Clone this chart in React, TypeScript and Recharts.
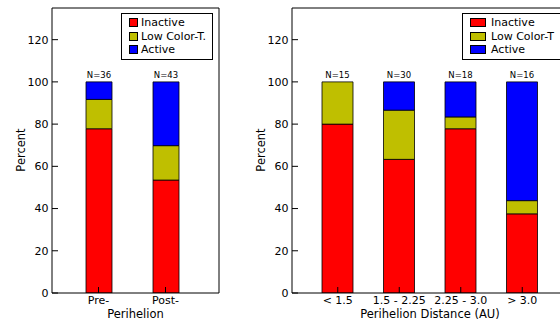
import React from 'react';
import { BarChart, Bar, XAxis, YAxis, Legend, LabelList } from 'recharts';

// pre/post perihelion
const timeCats = ['Pre-', 'Post-'];
const timeN = [36, 43];
const timeInactive = [77.8, 53.5];
const timeLowT = [13.9, 16.3];
const timeActive = [8.3, 30.2];

// by perihelion distance
const distCats = ['< 1.5', '1.5 - 2.25', '2.25 - 3.0', '> 3.0'];
const distN = [15, 30, 18, 16];
const distInactive = [80, 63.3, 77.8, 37.5];
const distLowT = [20, 23.3, 5.6, 6.25];
const distActive = [0, 13.4, 16.6, 56.25];

const yTicks = [0, 20, 40, 60, 80, 100, 120];

const RED = '#ff0000';
const OLIVE = '#bfbf00';
const BLUE = '#0000ff';
const FONT = 'DejaVu Sans, sans-serif';

const build = (cats: string[], n: number[], a: number[], b: number[], c: number[]) =>
  cats.map((name, i) => ({ name, n: n[i], inactive: a[i], lowT: b[i], active: c[i] }));

const timeData = build(timeCats, timeN, timeInactive, timeLowT, timeActive);
const distData = build(distCats, distN, distInactive, distLowT, distActive);

const LegendBox = ({ labels, swatchW, left }: { labels: string[]; swatchW: number; left: number }) => (
  <div
    style={{
      position: 'absolute',
      left,
      top: 13,
      border: '1px solid #000',
      background: '#fff',
      padding: '2px 6px 2px 7px',
      fontFamily: FONT,
      fontSize: 11,
      lineHeight: '13.5px',
      color: '#000',
      whiteSpace: 'nowrap',
    }}
  >
    {labels.map((l, i) => (
      <div key={l} style={{ display: 'flex', alignItems: 'center' }}>
        <span
          style={{
            display: 'inline-block',
            width: swatchW,
            height: 7,
            background: [RED, OLIVE, BLUE][i],
            border: '1px solid #000',
            marginRight: swatchW > 10 ? 5 : 3,
          }}
        />
        {l}
      </div>
    ))}
  </div>
);

// label sits on top of the full stack (100%), placed from the inactive segment's scale
const nLabel = (data: any[]) => (props: any) => {
  const { x, y, width, height, index } = props;
  const row = data[index];
  const perUnit = height / row.inactive;
  const top = y + height - 100 * perUnit;
  return (
    <text x={x + width / 2} y={top - 4} textAnchor="middle" fontSize={8.5} fontFamily={FONT} fill="#000">
      {'N=' + row.n}
    </text>
  );
};

const yLabel = () => (
  <text
    x={21}
    y={150}
    transform="rotate(-90 21 150)"
    textAnchor="middle"
    dominantBaseline="central"
    fontSize={11.5}
    fontFamily={FONT}
    fill="#000"
  >
    Percent
  </text>
);

interface PanelProps {
  data: any[];
  width: number;
  right: number;
  pad: { left: number; right: number };
  barSize: number;
  xLabel: string;
  legendLabels: string[];
  legendLeft: number;
  swatchW: number;
}

const Panel = ({ data, width, right, pad, barSize, xLabel, legendLabels, legendLeft, swatchW }: PanelProps) => {
  const tickStyle = { fontSize: 11, fill: '#000', fontFamily: FONT };
  return (
    <BarChart width={width} height={320} data={data} margin={{ top: 7, right: right - 1, left: 0, bottom: 0 }}>
      <XAxis
        dataKey="name"
        height={27}
        padding={pad}
        tick={tickStyle}
        tickSize={-6}
        tickMargin={9}
        axisLine={{ stroke: '#000' }}
        tickLine={{ stroke: '#000' }}
        interval={0}
        label={{ value: xLabel, position: 'insideBottom', offset: 2, fontSize: 11.5, fill: '#000', fontFamily: FONT }}
      />
      <XAxis
        xAxisId="top"
        orientation="top"
        dataKey="name"
        height={1}
        padding={pad}
        tick={false}
        tickSize={-6}
        axisLine={{ stroke: '#000' }}
        tickLine={{ stroke: '#000' }}
        interval={0}
      />
      <YAxis
        width={52}
        domain={[0, 135]}
        ticks={yTicks}
        type="number"
        allowDataOverflow
        tick={tickStyle}
        tickSize={-6}
        tickMargin={9.5}
        axisLine={{ stroke: '#000' }}
        tickLine={{ stroke: '#000' }}
        label={{ content: yLabel }}
      />
      <YAxis
        yAxisId="right"
        orientation="right"
        width={1}
        domain={[0, 135]}
        ticks={yTicks}
        type="number"
        allowDataOverflow
        tick={false}
        tickSize={-6}
        axisLine={{ stroke: '#000' }}
        tickLine={{ stroke: '#000' }}
      />
      <Legend
        content={() => <LegendBox labels={legendLabels} swatchW={swatchW} left={legendLeft} />}
        wrapperStyle={{ position: 'absolute', left: 0, top: 0, width: 0, height: 0 }}
      />
      <Bar dataKey="inactive" stackId="s" fill={RED} stroke="#000" strokeWidth={0.8} barSize={barSize} isAnimationActive={false}>
        <LabelList dataKey="n" content={nLabel(data)} />
      </Bar>
      <Bar dataKey="lowT" stackId="s" fill={OLIVE} stroke="#000" strokeWidth={0.8} barSize={barSize} isAnimationActive={false} />
      <Bar dataKey="active" stackId="s" fill={BLUE} stroke="#000" strokeWidth={0.8} barSize={barSize} isAnimationActive={false} />
    </BarChart>
  );
};

export default function App() {
  return (
    <div
      style={{
        position: 'absolute',
        left: 0,
        top: 0,
        width: 560,
        height: 320,
        overflow: 'hidden',
        background: '#fff',
      }}
    >
      <div style={{ position: 'absolute', left: 0, top: 0 }}>
        <Panel
          data={timeData}
          width={280}
          right={61}
          pad={{ left: 13, right: 20 }}
          barSize={26}
          xLabel="Perihelion"
          legendLabels={['Inactive', 'Low Color-T.', 'Active']}
          legendLeft={121}
          swatchW={7}
        />
      </div>
      <div style={{ position: 'absolute', left: 240, top: 0 }}>
        <Panel
          data={distData}
          width={340}
          right={12}
          pad={{ left: 15, right: 15 }}
          barSize={31}
          xLabel="Perihelion Distance (AU)"
          legendLabels={['Inactive', 'Low Color-T', 'Active']}
          legendLeft={222}
          swatchW={14}
        />
      </div>
    </div>
  );
}
